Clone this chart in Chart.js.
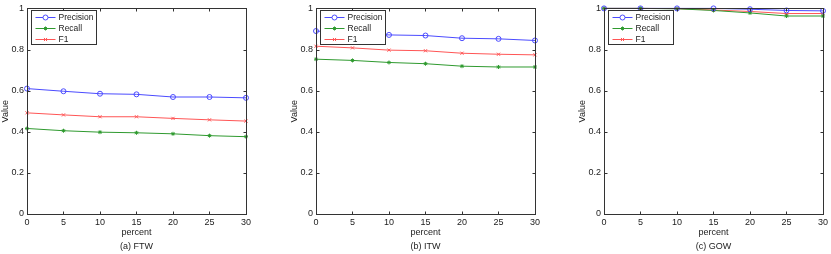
<!DOCTYPE html>
<html>
<head>
<meta charset="utf-8">
<script src="https://cdn.jsdelivr.net/npm/chart.js@4/dist/chart.umd.min.js"></script>
<style>
  html, body { margin: 0; padding: 0; background: #fff; }
  #wrap { position: relative; width: 831px; height: 254px; overflow: hidden; }
  .panel { position: absolute; top: 0; width: 254px; height: 254px; }
</style>
</head>
<body>
<div id="wrap">
  <div class="panel" style="left:0px"><canvas id="ftw" width="254" height="254"></canvas></div>
  <div class="panel" style="left:289px"><canvas id="itw" width="254" height="254"></canvas></div>
  <div class="panel" style="left:577px"><canvas id="gow" width="254" height="254"></canvas></div>
</div>
<script>
// x positions (percent)
const percents = [0, 5, 10, 15, 20, 25, 30];
const xTicks = [0, 5, 10, 15, 20, 25, 30];
const yTicks = [0, 0.2, 0.4, 0.6, 0.8, 1];

// (a) FTW
const ftwPrecision = [0.610, 0.597, 0.585, 0.582, 0.569, 0.569, 0.565];
const ftwRecall    = [0.416, 0.405, 0.398, 0.395, 0.390, 0.381, 0.376];
const ftwF1        = [0.492, 0.482, 0.473, 0.473, 0.465, 0.458, 0.452];

// (b) ITW
const itwPrecision = [0.890, 0.880, 0.871, 0.868, 0.855, 0.852, 0.844];
const itwRecall    = [0.753, 0.747, 0.737, 0.731, 0.719, 0.715, 0.715];
const itwF1        = [0.816, 0.808, 0.797, 0.794, 0.782, 0.777, 0.774];

// (c) GOW
const gowPrecision = [1.000, 1.000, 1.000, 1.000, 0.996, 0.990, 0.988];
const gowRecall    = [1.000, 1.000, 0.998, 0.990, 0.978, 0.963, 0.963];
const gowF1        = [1.000, 1.000, 0.999, 0.992, 0.985, 0.975, 0.975];

const FONT = "'Liberation Sans', Arial, Helvetica, sans-serif";
const TEXT = '#222';

// MATLAB-like box with inward ticks plus the legend inside the axes
const boxPlugin = {
    id: 'matlabBox',
    afterDraw(chart) {
        const ctx = chart.ctx;
        const a = chart.chartArea;
        const xs = chart.scales.x, ys = chart.scales.y;
        const L = Math.round(a.left) + 0.5, R = Math.round(a.right) + 0.5;
        const T = Math.round(a.top) + 0.5, B = Math.round(a.bottom) + 0.5;
        ctx.save();
        ctx.strokeStyle = '#333';
        ctx.lineWidth = 1;
        ctx.strokeRect(L, T, R - L, B - T);
        ctx.beginPath();
        xTicks.forEach(v => {
            const px = Math.round(xs.getPixelForValue(v)) + 0.5;
            ctx.moveTo(px, B); ctx.lineTo(px, B - 3);
            ctx.moveTo(px, T); ctx.lineTo(px, T + 3);
        });
        yTicks.forEach(v => {
            const py = Math.round(ys.getPixelForValue(v)) + 0.5;
            ctx.moveTo(L, py); ctx.lineTo(L + 3, py);
            ctx.moveTo(R, py); ctx.lineTo(R - 3, py);
        });
        ctx.stroke();

        // legend
        const lx = L + 4, ly = T + 2, lw = 65, lh = 34;
        ctx.fillStyle = '#fff';
        ctx.fillRect(lx, ly, lw, lh);
        ctx.strokeStyle = '#333';
        ctx.strokeRect(lx, ly, lw, lh);
        ctx.font = '8.5px ' + FONT;
        ctx.textBaseline = 'middle';
        chart.data.datasets.forEach((ds, i) => {
            const cy = ly + 7 + i * 11;
            ctx.strokeStyle = ds.borderColor;
            ctx.lineWidth = 1;
            ctx.beginPath();
            ctx.moveTo(lx + 4, cy); ctx.lineTo(lx + 24, cy);
            ctx.stroke();
            Chart.helpers.drawPoint(ctx, {
                pointStyle: ds.pointStyle, rotation: 0,
                radius: ds.pointRadius, borderWidth: 1
            }, lx + 14, cy);
            ctx.fillStyle = TEXT;
            ctx.fillText(ds.label, lx + 27, cy + 0.5);
        });
        ctx.restore();
    }
};

function makeDatasets(prec, rec, f1) {
    const common = { borderWidth: 1, pointBorderWidth: 1, clip: false, tension: 0 };
    return [
        Object.assign({ label: 'Precision', data: prec, borderColor: '#4b4bff',
            pointStyle: 'circle', pointRadius: 2.5, pointBackgroundColor: 'rgba(0,0,0,0)' }, common),
        Object.assign({ label: 'Recall', data: rec, borderColor: '#2f9a2f',
            pointStyle: 'star', pointRadius: 2, pointBackgroundColor: '#2f9a2f' }, common),
        Object.assign({ label: 'F1', data: f1, borderColor: '#ff5555',
            pointStyle: 'crossRot', pointRadius: 2.2, pointBackgroundColor: '#ff5555' }, common)
    ];
}

function renderPanel(id, caption, prec, rec, f1) {
    const ctx = document.getElementById(id).getContext('2d');
    new Chart(ctx, {
        type: 'line',
        data: {
            labels: percents,
            datasets: makeDatasets(prec, rec, f1)
        },
        options: {
            responsive: false,
            animation: false,
            layout: { padding: { top: 7, right: 7, left: 0, bottom: 0 } },
            plugins: {
                legend: { display: false },
                tooltip: { enabled: false }
            },
            scales: {
                x: {
                    type: 'linear',
                    min: 0,
                    max: 30,
                    afterFit: function(scale) { scale.height = 40; },
                    afterBuildTicks: function(scale) {
                        scale.ticks = xTicks.map(v => ({ value: v }));
                    },
                    grid: { display: false, drawTicks: false },
                    border: { display: false },
                    ticks: {
                        padding: 3,
                        maxRotation: 0,
                        color: TEXT,
                        font: { family: FONT, size: 9 }
                    },
                    title: {
                        display: true,
                        text: ['percent', caption],
                        color: TEXT,
                        padding: { top: 0, bottom: 0 },
                        font: { family: FONT, size: 9, lineHeight: 14 / 9 }
                    }
                },
                y: {
                    min: 0,
                    max: 1,
                    afterFit: function(scale) { scale.width = 27; },
                    afterBuildTicks: function(scale) {
                        scale.ticks = yTicks.map(v => ({ value: v }));
                    },
                    grid: { display: false, drawTicks: false },
                    border: { display: false },
                    ticks: {
                        padding: 3,
                        color: TEXT,
                        font: { family: FONT, size: 9 },
                        callback: function(value) { return String(Math.round(value * 10) / 10); }
                    },
                    title: {
                        display: true,
                        text: 'Value',
                        color: TEXT,
                        padding: 0,
                        font: { family: FONT, size: 9 }
                    }
                }
            }
        },
        plugins: [boxPlugin]
    });
}

renderPanel('ftw', '(a) FTW', ftwPrecision, ftwRecall, ftwF1);
renderPanel('itw', '(b) ITW', itwPrecision, itwRecall, itwF1);
renderPanel('gow', '(c) GOW', gowPrecision, gowRecall, gowF1);
</script>
</body>
</html>
